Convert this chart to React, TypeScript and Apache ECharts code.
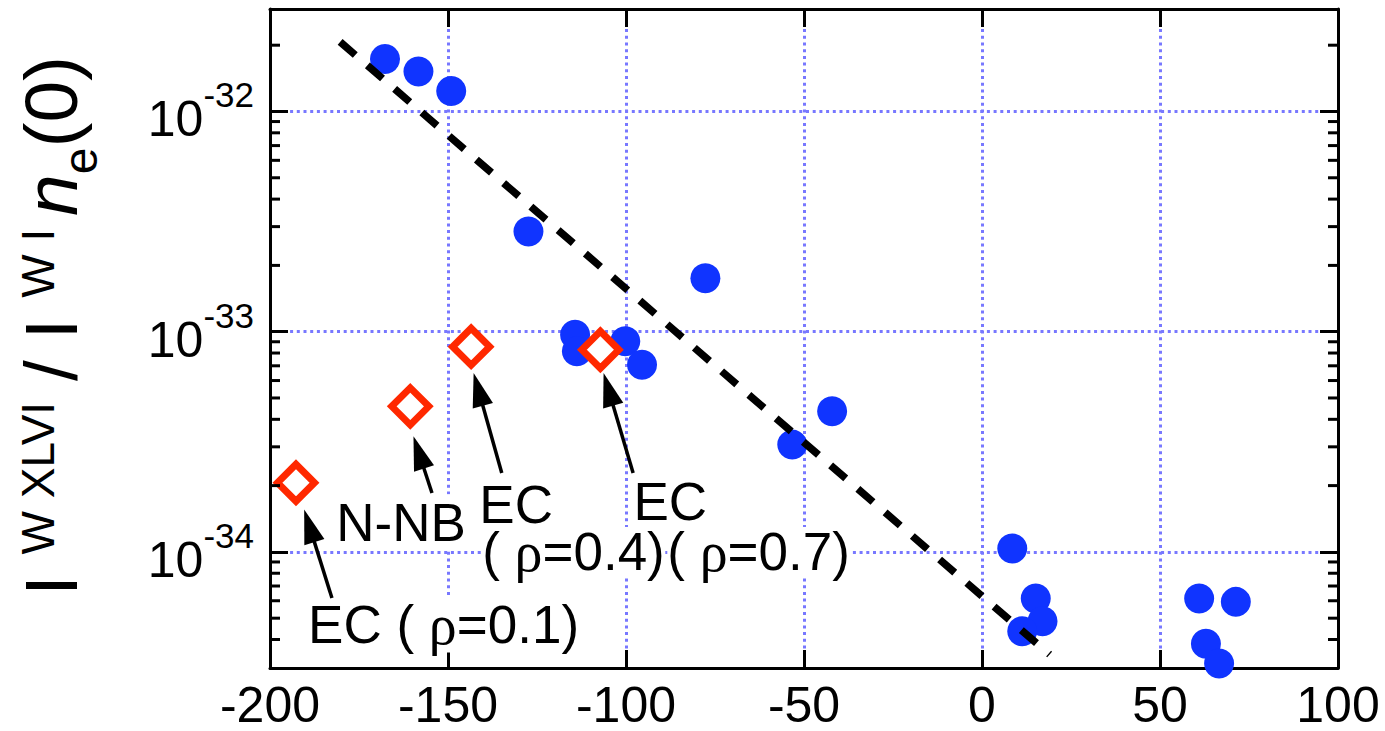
import React, { useEffect, useRef } from 'react';
import * as echarts from 'echarts';

const FONT = "'Liberation Sans', Arial, Helvetica, sans-serif";
const SERIF = "'Liberation Serif', 'Times New Roman', serif";

const X_MIN = -200;
const X_MAX = 100;
const X_STEP = 50;
const Y_MIN = 2.97e-35;
const Y_MAX = 2.92e-32;

// measured points (blue filled circles)
const blueX = [-167.7, -158.3, -149.1, -127.4, -77.7, -114.3, -113.8, -100.2, -95.5, -42.1, -53.3, 8.5, 15.1, 17.0, 11.3, 61.0, 71.3, 62.9, 66.6];
const blueY = [1.73e-32, 1.52e-32, 1.24e-32, 2.85e-33, 1.75e-33, 9.69e-34, 8.14e-34, 9.04e-34, 7.08e-34, 4.35e-34, 3.07e-34, 1.035e-34, 6.14e-35, 4.84e-35, 4.36e-35, 6.14e-35, 5.93e-35, 3.83e-35, 3.11e-35];

// model points (red open diamonds)
const redX = [-192.7, -160.6, -143.5, -107.2];
const redY = [2.06e-34, 4.58e-34, 8.55e-34, 8.28e-34];

// dashed fit line
const fitX = [-180.3, 19.0];
const fitY = [2.07e-32, 3.42e-35];

// annotation labels (anchor = left / middle)
const annotText = ['EC ( {r|ρ}=0.1)', 'N-NB', 'EC', '( {r|ρ}=0.4)', 'EC', '( {r|ρ}=0.7)'];
const annotX = [-189.3, -181.4, -141.2, -140.4, -97.9, -88.4];
const annotY = [4.68e-35, 1.365e-34, 1.65e-34, 1.0e-34, 1.69e-34, 1.0e-34];

// arrows (tail -> tip)
const arrowFromX = [-182.6, -154.5, -134.9, -98.0];
const arrowFromY = [6.18e-35, 1.85e-34, 2.28e-34, 2.28e-34];
const arrowToX = [-190.4, -159.7, -142.8, -106.3];
const arrowToY = [1.556e-34, 3.35e-34, 6.49e-34, 6.49e-34];

// minor ticks of the log axis
const MINOR_MANTISSAS = [2, 3, 4, 5, 6, 7, 8, 9];
const MINOR_EXPONENTS = [-35, -34, -33, -32];
const minorTicks = MINOR_EXPONENTS.flatMap((e) =>
  MINOR_MANTISSAS.map((m) => Number((m * Math.pow(10, e)).toPrecision(3)))
).filter((v) => v > Y_MIN * 1.02 && v < Y_MAX * 0.98);

const TITLE =
  '{m|I}{m| }{s|W XLVI}{m| }{m|/}{m| }{m|I}{m| }{s|W I}{s| }{n|n}{b|e}{m|(0)}';

const BLUE = '#1034ff';
const RED = '#ff2800';
const GRID_COLOR = '#7878ff';

const axisLine = { show: true, onZero: false, lineStyle: { color: '#000', width: 3 } };
const axisTick = { show: true, inside: true, length: 18, lineStyle: { color: '#000', width: 3 } };
const splitLine = {
  show: true,
  showMinLine: false,
  showMaxLine: false,
  lineStyle: { color: GRID_COLOR, width: 3, type: [3, 3.7] },
};

function yLabel(v: number) {
  const l = Math.log10(v);
  const e = Math.round(l);
  if (Math.abs(l - e) > 1e-6) return '';
  return `{b|10}{s|${e}}`;
}

function buildOption() {
  return {
    animation: false,
    backgroundColor: '#fff',
    textStyle: { fontFamily: FONT },
    grid: { left: 270, right: 47, top: 9, bottom: 63, outerBoundsMode: 'none', containLabel: false },
    xAxis: [
      {
        type: 'value',
        position: 'bottom',
        min: X_MIN,
        max: X_MAX,
        interval: X_STEP,
        axisLine,
        axisTick,
        axisLabel: { show: true, margin: 12, fontSize: 50, fontFamily: FONT, color: '#000' },
        splitLine,
      },
      {
        type: 'value',
        position: 'top',
        min: X_MIN,
        max: X_MAX,
        interval: X_STEP,
        axisLine,
        axisTick,
        axisLabel: { show: false },
        splitLine: { show: false },
      },
    ],
    yAxis: [
      {
        type: 'log',
        logBase: 10,
        position: 'left',
        min: Y_MIN,
        max: Y_MAX,
        axisLine,
        axisTick,
        axisLabel: {
          show: true,
          margin: 16,
          color: '#000',
          formatter: yLabel,
          rich: {
            b: { fontSize: 50, fontFamily: FONT, color: '#000', verticalAlign: 'top', padding: [18, 0, 0, 0], lineHeight: 70 },
            s: { fontSize: 35, fontFamily: FONT, color: '#000', verticalAlign: 'top', padding: [1, 0, 0, 0], lineHeight: 70 },
          },
        },
        splitLine,
      },
      {
        type: 'log',
        logBase: 10,
        position: 'right',
        min: Y_MIN,
        max: Y_MAX,
        axisLine,
        axisTick,
        axisLabel: { show: false },
        splitLine: { show: false },
      },
    ],
    graphic: [
      {
        type: 'text',
        x: 13.5,
        y: 326,
        rotation: Math.PI / 2,
        style: {
          text: TITLE,
          fill: '#000',
          align: 'center',
          verticalAlign: 'top',
          textAlign: 'center',
          textVerticalAlign: 'top',
          rich: {
            m: { fontSize: 75, fontFamily: FONT, fill: '#000', verticalAlign: 'top', padding: [0, 0, 0, 0] },
            n: { fontSize: 75, fontFamily: FONT, fontStyle: 'italic', fill: '#000', verticalAlign: 'top', padding: [0, 0, 0, 0] },
            s: { fontSize: 46, fontFamily: FONT, fill: '#000', verticalAlign: 'top', padding: [1, 0, 0, 0] },
            b: { fontSize: 48, fontFamily: FONT, fill: '#000', verticalAlign: 'top', padding: [43, 0, 0, 0] },
          },
        },
      },
    ],
    series: [
      {
        name: 'measured',
        type: 'scatter',
        z: 2,
        symbol: 'circle',
        symbolSize: 30,
        itemStyle: { color: BLUE, opacity: 1 },
        data: blueX.map((x, i) => [x, blueY[i]]),
      },
      {
        name: 'model',
        type: 'custom',
        z: 3,
        encode: { x: 0, y: 1 },
        data: redX.map((x, i) => [x, redY[i]]),
        renderItem: (params: any, api: any) => {
          const p = api.coord([api.value(0), api.value(1)]);
          const h = 18.5;
          return {
            type: 'polygon',
            shape: {
              points: [
                [p[0], p[1] - h],
                [p[0] + h, p[1]],
                [p[0], p[1] + h],
                [p[0] - h, p[1]],
              ],
            },
            style: { fill: '#fff', stroke: RED, lineWidth: 7, lineJoin: 'miter' },
          };
        },
      },
      {
        name: 'fit',
        type: 'line',
        z: 4,
        showSymbol: false,
        symbol: 'none',
        lineStyle: { color: '#000', width: 7.5, type: [20, 16], cap: 'butt' },
        data: fitX.map((x, i) => [x, fitY[i]]),
      },
      {
        name: 'labels',
        type: 'custom',
        z: 5,
        silent: true,
        encode: { x: 0, y: 1 },
        data: annotX.map((x, i) => [x, annotY[i]]),
        renderItem: (params: any, api: any) => {
          const p = api.coord([api.value(0), api.value(1)]);
          const txt = annotText[params.dataIndex];
          const lh = txt === 'EC' ? 40 : txt.charAt(0) === '(' ? 50 : 56;
          return {
            type: 'text',
            x: p[0],
            y: p[1],
            style: {
              text: txt,
              fontSize: 53,
              fontFamily: FONT,
              fill: '#000',
              align: 'left',
              verticalAlign: 'middle',
              textAlign: 'left',
              textVerticalAlign: 'middle',
              backgroundColor: '#fff',
              lineHeight: lh,
              rich: {
                r: { fontSize: 56, fontFamily: SERIF, fill: '#000', lineHeight: lh },
              },
            },
          };
        },
      },
      {
        name: 'arrows',
        type: 'custom',
        z: 6,
        silent: true,
        encode: { x: [0, 2], y: [1, 3] },
        data: arrowFromX.map((x, i) => [x, arrowFromY[i], arrowToX[i], arrowToY[i]]),
        renderItem: (params: any, api: any) => {
          const p1 = api.coord([api.value(0), api.value(1)]);
          const p2 = api.coord([api.value(2), api.value(3)]);
          const dx = p2[0] - p1[0];
          const dy = p2[1] - p1[1];
          const len = Math.hypot(dx, dy) || 1;
          const ux = dx / len;
          const uy = dy / len;
          const hl = 34;
          const hw = 10.5;
          const bx = p2[0] - ux * hl;
          const by = p2[1] - uy * hl;
          return {
            type: 'group',
            children: [
              {
                type: 'line',
                shape: { x1: p1[0], y1: p1[1], x2: bx + ux * 2, y2: by + uy * 2 },
                style: { stroke: '#000', lineWidth: 3.5 },
              },
              {
                type: 'polygon',
                shape: {
                  points: [
                    [p2[0], p2[1]],
                    [bx - uy * hw, by + ux * hw],
                    [bx + uy * hw, by - ux * hw],
                  ],
                },
                style: { fill: '#000' },
              },
            ],
          };
        },
      },
      {
        name: 'minorTicks',
        type: 'custom',
        z: 6,
        silent: true,
        encode: { x: 0, y: 1 },
        data: minorTicks.map((v) => [X_MIN, v]),
        renderItem: (params: any, api: any) => {
          const v = api.value(1);
          const l = api.coord([X_MIN, v]);
          const r = api.coord([X_MAX, v]);
          return {
            type: 'group',
            children: [
              { type: 'line', shape: { x1: l[0], y1: l[1], x2: l[0] + 10, y2: l[1] }, style: { stroke: '#000', lineWidth: 3 } },
              { type: 'line', shape: { x1: r[0] - 10, y1: r[1], x2: r[0], y2: r[1] }, style: { stroke: '#000', lineWidth: 3 } },
            ],
          };
        },
      },
    ],
  };
}

export default function App() {
  const ref = useRef<HTMLDivElement>(null);
  useEffect(() => {
    if (!ref.current) return;
    const chart = echarts.init(ref.current, null, { renderer: 'svg' });
    chart.setOption(buildOption() as any);
    return () => chart.dispose();
  }, []);
  return (
    <div
      ref={ref}
      style={{ position: 'fixed', left: 0, top: 0, width: 1385, height: 731, background: '#fff' }}
    />
  );
}
